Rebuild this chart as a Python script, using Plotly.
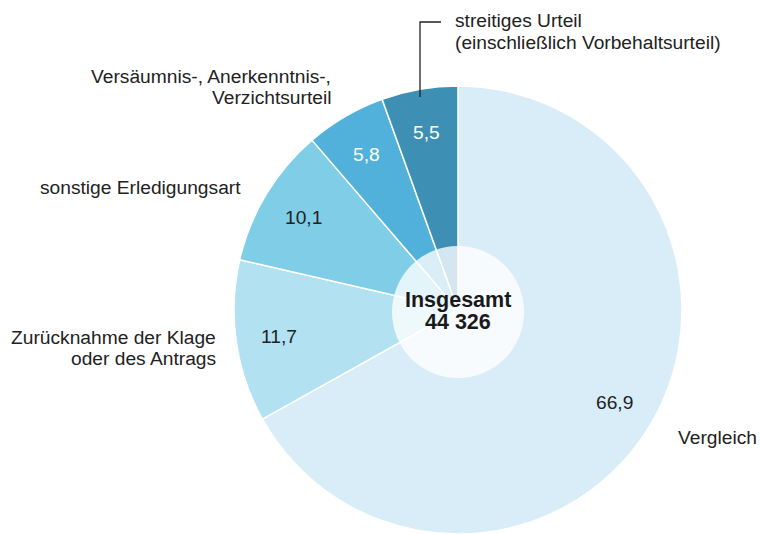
import math
import plotly.graph_objects as go

labels = [
    "Vergleich",
    "Zurücknahme der Klage<br>oder des Antrags",
    "sonstige Erledigungsart",
    "Versäumnis-, Anerkenntnis-,<br>Verzichtsurteil",
    "streitiges Urteil<br>(einschließlich Vorbehaltsurteil)",
]
values = [66.9, 11.7, 10.1, 5.8, 5.5]
value_text = ["66,9", "11,7", "10,1", "5,8", "5,5"]
colors = ["#d9edf8", "#b2e1f2", "#7fcde7", "#52b1da", "#3d8fb4"]
text_colors = ["#222222", "#222222", "#222222", "#ffffff", "#ffffff"]
total_label = ["Insgesamt", "44 326"]

W, H = 760, 534
font = "Liberation Sans, Arial, sans-serif"
FS = 19.2


def paper(x, y):
    # pixel position from the top-left corner -> paper coords
    return x / W, (H - y) / H


# pie sits low; its bottom edge touches the lower border of the figure
cx, cy, R = 458, 310, 224
x0, y1 = paper(cx - R, cy - R)
x1, _ = paper(cx + R, cy + R)

fig = go.Figure()
fig.add_trace(go.Pie(
    labels=labels, values=values, textinfo="none",
    marker=dict(colors=colors, line=dict(color="white", width=1.5)),
    sort=False, direction="clockwise", rotation=0,
    domain=dict(x=[x0, x1], y=[0, y1]),
    showlegend=False, hovertext=value_text, hoverinfo="label+text",
))

# translucent centre disc
hr = 66
hx0, hy1 = paper(cx - hr, cy + 2 - hr)
hx1, hy0 = paper(cx + hr, cy + 2 + hr)
fig.add_shape(
    type="circle", xref="paper", yref="paper", layer="above",
    x0=hx0, x1=hx1, y0=hy0, y1=hy1,
    fillcolor="rgba(255,255,255,0.78)", line=dict(width=0),
)

# value labels at 80 % of the outer radius on each slice's mid angle
total = sum(values)
cum = 0
for v, t, c in zip(values, value_text, text_colors):
    mid = (cum + v / 2) / total * 2 * math.pi
    cum += v
    tx = cx + 181 * math.sin(mid)
    ty = cy + 1 - 181 * math.cos(mid)
    px, py = paper(tx, ty)
    fig.add_annotation(
        x=px, y=py, xref="paper", yref="paper", text=t, showarrow=False,
        xanchor="center", yanchor="middle",
        font=dict(family=font, size=FS, color=c),
    )

# leader line for the smallest slice
lx, ly0 = paper(420, 97)
_, ly1 = paper(420, 22)
lx2, _ = paper(441, 22)
fig.add_shape(
    type="path", xref="paper", yref="paper", layer="above",
    path=f"M {lx} {ly0} L {lx} {ly1} L {lx2} {ly1}",
    line=dict(color="#222222", width=1.3),
)

anno_font = dict(family=font, size=FS, color="#222222")
label_pos = [
    (676, 437, "left"),
    (218, 337, "right"),
    (243, 188, "right"),
    (333, 76, "right"),
    (453, 21, "left"),
]
for lab, (x, y, al) in zip(labels, label_pos):
    for i, line in enumerate(lab.split("<br>")):
        ax, ay = paper(x, y + 21.5 * i)
        fig.add_annotation(
            x=ax, y=ay, xref="paper", yref="paper", text=line,
            showarrow=False, xanchor=al, yanchor="middle", font=anno_font,
        )

for i, line in enumerate(total_label):
    ax, ay = paper(cx, 300 + 22 * i)
    fig.add_annotation(
        x=ax, y=ay, xref="paper", yref="paper", text=f"<b>{line}</b>",
        showarrow=False, xanchor="center", yanchor="middle",
        font=dict(family=font, size=21.5, color="#1a1a1a"),
    )

fig.update_layout(
    width=W, height=H, margin=dict(l=0, r=0, t=0, b=0),
    paper_bgcolor="white", plot_bgcolor="white",
    font=dict(family=font),
)

fig.write_html(
    "out.html",
    config={"displayModeBar": False},
    post_script="document.body.style.margin = '0';",
)
